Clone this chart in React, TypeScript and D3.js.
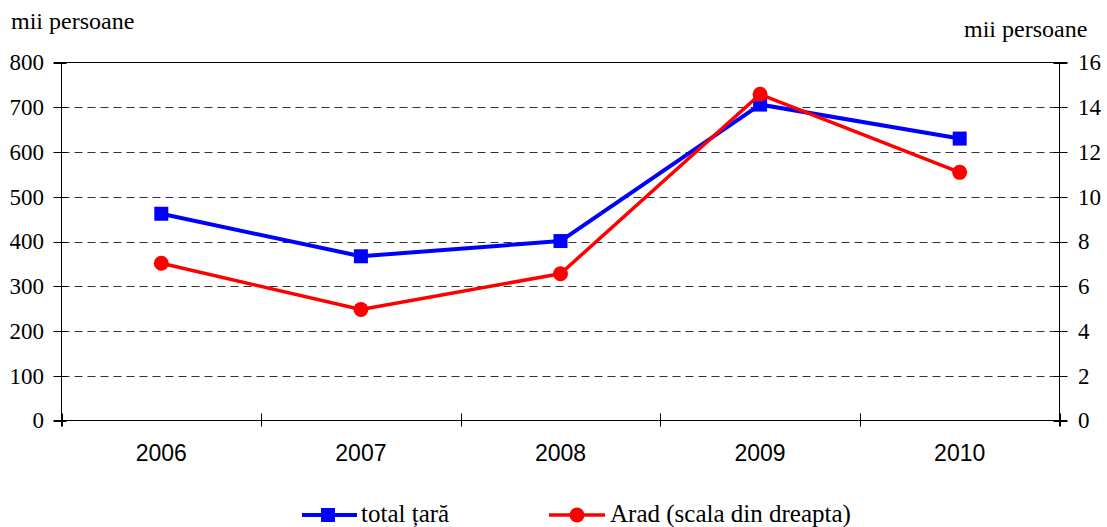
import React from "react";
import * as d3 from "d3";

const years = ["2006", "2007", "2008", "2009", "2010"];
const totalTara = [462, 367, 401, 706, 630];
const arad = [7.03, 4.96, 6.56, 14.58, 11.09];
const leftTicks = [0, 100, 200, 300, 400, 500, 600, 700, 800];
const rightTicks = [0, 2, 4, 6, 8, 10, 12, 14, 16];

const W = 1107;
const H = 527;
const left = 61.5;
const right = 1059.5;
const top = 62.5;
const bottom = 420.5;

const serif = "'Liberation Serif', 'Times New Roman', serif";
const sans = "'Liberation Sans', Arial, sans-serif";

export default function App() {
  const x = d3.scaleBand<string>().domain(years).range([left, right]).padding(0);
  const yL = d3.scaleLinear().domain([0, 800]).range([bottom, top]);
  const yR = d3.scaleLinear().domain([0, 16]).range([bottom, top]);
  const cx = (d: string) => (x(d) as number) + x.bandwidth() / 2;

  const lineL = d3
    .line<number>()
    .x((_, i) => cx(years[i]))
    .y((d) => yL(d));
  const lineR = d3
    .line<number>()
    .x((_, i) => cx(years[i]))
    .y((d) => yR(d));

  const boundaries = [...years.map((y) => x(y) as number), right];

  return (
    <svg width={W} height={H} style={{ position: "absolute", left: 0, top: 0, background: "#fff" }}>
      {leftTicks
        .filter((t) => t !== 0 && t !== 800)
        .map((t) => (
          <line key={"g" + t} x1={left} x2={right} y1={Math.round(yL(t)) + 0.5} y2={Math.round(yL(t)) + 0.5}
            stroke="#333" strokeWidth={1} strokeDasharray="8,5" />
        ))}
      <line x1={left - 8} x2={right + 8} y1={top} y2={top} stroke="#000" strokeWidth={1} />
      <line x1={left} x2={left} y1={top} y2={bottom + 6} stroke="#000" strokeWidth={1} />
      <line x1={right} x2={right} y1={top} y2={bottom + 6} stroke="#000" strokeWidth={1} />
      <line x1={left - 8} x2={right + 8} y1={bottom} y2={bottom} stroke="#000" strokeWidth={1} />
      {leftTicks.map((t) => (
        <g key={"l" + t}>
          <line x1={left - 8} x2={left + 5} y1={Math.round(yL(t)) + 0.5} y2={Math.round(yL(t)) + 0.5} stroke="#000" />
          <text x={44} y={yL(t)} dy="0.34em" textAnchor="end" fontFamily={serif} fontSize={23} fill="#000">
            {t}
          </text>
        </g>
      ))}
      {rightTicks.map((t) => (
        <g key={"r" + t}>
          <line x1={right - 6} x2={right + 8} y1={Math.round(yR(t)) + 0.5} y2={Math.round(yR(t)) + 0.5} stroke="#000" />
          <text x={1078} y={yR(t)} dy="0.34em" textAnchor="start" fontFamily={serif} fontSize={23} fill="#000">
            {t}
          </text>
        </g>
      ))}
      {boundaries.map((b, i) => (
        <line key={"xt" + i} x1={Math.round(b) + 0.5} x2={Math.round(b) + 0.5} y1={bottom - 7} y2={bottom + 6} stroke="#000" />
      ))}
      {years.map((y) => (
        <text key={"c" + y} x={cx(y)} y={461} textAnchor="middle" fontFamily={sans} fontSize={23} fill="#000">
          {y}
        </text>
      ))}
      <text x={11} y={29} fontFamily={serif} fontSize={24} fill="#000">
        mii persoane
      </text>
      <text x={964} y={37} fontFamily={serif} fontSize={24} fill="#000">
        mii persoane
      </text>
      <path d={lineL(totalTara) || ""} fill="none" stroke="#0000FF" strokeWidth={4} strokeLinejoin="round" />
      {totalTara.map((v, i) => (
        <rect key={"s" + i} x={cx(years[i]) - 7} y={yL(v) - 7} width={14} height={14} fill="#0000FF" />
      ))}
      <path d={lineR(arad) || ""} fill="none" stroke="#FF0000" strokeWidth={3.5} strokeLinejoin="round" />
      {arad.map((v, i) => (
        <circle key={"c" + i} cx={cx(years[i])} cy={yR(v)} r={7.5} fill="#FF0000" />
      ))}
      <line x1={302} x2={357} y1={515} y2={515} stroke="#0000FF" strokeWidth={4} />
      <rect x={321} y={508} width={14} height={14} fill="#0000FF" />
      <text x={361} y={522} fontFamily={serif} fontSize={25} fill="#000">
        total țară
      </text>
      <line x1={549} x2={605} y1={515} y2={515} stroke="#FF0000" strokeWidth={3.5} />
      <circle cx={577} cy={515} r={7.5} fill="#FF0000" />
      <text x={610} y={522} fontFamily={serif} fontSize={25} fill="#000">
        Arad (scala din dreapta)
      </text>
    </svg>
  );
}
